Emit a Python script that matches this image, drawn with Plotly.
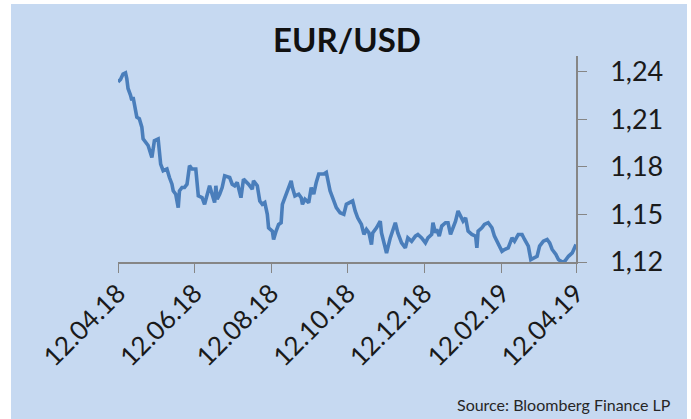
import datetime as dt
import plotly.graph_objects as go

# ---- data ----
start_date = dt.date(2018, 4, 12)
days_since_start = [
    0, 2, 4, 6, 7, 8, 10, 11, 12, 14, 15, 17, 19, 20, 22, 24, 27, 28, 29, 32,
    33, 34, 36, 39, 41, 43, 44, 46, 48, 49, 51, 53, 55, 57, 59, 62, 64, 67, 69, 71,
    73, 75, 77, 78, 79, 81, 83, 85, 89, 91, 93, 95, 98, 100, 103, 104, 107, 108, 111, 113,
    115, 117, 119, 120, 123, 124, 126, 128, 130, 131, 133, 136, 138, 139, 141, 144, 146, 147, 149, 152,
    154, 156, 157, 158, 160, 164, 166, 169, 172, 174, 177, 180, 182, 185, 187, 189, 191, 194, 196, 198,
    200, 202, 203, 206, 209, 210, 212, 214, 217, 221, 223, 226, 229, 231, 234, 237, 239, 242, 245, 247,
    250, 251, 253, 254, 256, 258, 261, 263, 265, 267, 269, 271, 273, 275, 277, 279, 282, 285, 286, 287,
    290, 292, 295, 298, 300, 303, 306, 308, 311, 314, 316, 319, 322, 324, 327, 329, 331, 334, 336, 339,
    342, 344, 346, 349, 351, 354, 356, 359, 362, 363, 365,
]
eur_usd = [
    1.2337, 1.2352, 1.2386, 1.2394, 1.2358, 1.2295, 1.2252, 1.2220, 1.2241, 1.2146,
    1.2114, 1.2104, 1.2051, 1.1977, 1.1956, 1.1935, 1.1860, 1.1924, 1.1966, 1.1977,
    1.1903, 1.1818, 1.1776, 1.1787, 1.1733, 1.1691, 1.1649, 1.1628, 1.1543, 1.1649,
    1.1670, 1.1670, 1.1691, 1.1808, 1.1787, 1.1787, 1.1617, 1.1606, 1.1564, 1.1628,
    1.1681, 1.1628, 1.1575, 1.1681, 1.1596, 1.1628, 1.1670, 1.1744, 1.1733, 1.1691,
    1.1681, 1.1702, 1.1606, 1.1723, 1.1702, 1.1691, 1.1660, 1.1712, 1.1681, 1.1585,
    1.1564, 1.1575, 1.1501, 1.1416, 1.1395, 1.1342, 1.1395, 1.1437, 1.1448, 1.1564,
    1.1606, 1.1670, 1.1712, 1.1670, 1.1617, 1.1628, 1.1606, 1.1564, 1.1596, 1.1575,
    1.1670, 1.1628, 1.1670, 1.1702, 1.1755, 1.1755, 1.1765, 1.1649, 1.1585, 1.1543,
    1.1511, 1.1501, 1.1564, 1.1575, 1.1585, 1.1522, 1.1479, 1.1437, 1.1374, 1.1406,
    1.1384, 1.1310, 1.1384, 1.1416, 1.1458, 1.1384, 1.1310, 1.1257, 1.1352, 1.1448,
    1.1384, 1.1321, 1.1289, 1.1352, 1.1331, 1.1363, 1.1374, 1.1352, 1.1321, 1.1352,
    1.1374, 1.1448, 1.1384, 1.1406, 1.1363, 1.1427, 1.1448, 1.1448, 1.1374, 1.1416,
    1.1458, 1.1522, 1.1490, 1.1458, 1.1479, 1.1395, 1.1374, 1.1363, 1.1289, 1.1395,
    1.1416, 1.1437, 1.1448, 1.1416, 1.1363, 1.1310, 1.1268, 1.1279, 1.1289, 1.1352,
    1.1331, 1.1374, 1.1374, 1.1342, 1.1300, 1.1215, 1.1225, 1.1236, 1.1300, 1.1331,
    1.1342, 1.1321, 1.1279, 1.1247, 1.1215, 1.1200, 1.1204, 1.1236, 1.1257, 1.1279,
    1.1310,
]
x_tick_dates = ["2018-04-12", "2018-06-12", "2018-08-12", "2018-10-12",
                "2018-12-12", "2019-02-12", "2019-04-12"]
x_tick_labels = ["12.04.18", "12.06.18", "12.08.18", "12.10.18",
                 "12.12.18", "12.02.19", "12.04.19"]
y_tick_values = [1.12, 1.15, 1.18, 1.21, 1.24]
y_tick_labels = ["1,12", "1,15", "1,18", "1,21", "1,24"]
title_text = "EUR/USD"
source_text = "Source: Bloomberg Finance LP"

dates = [start_date + dt.timedelta(days=d) for d in days_since_start]

BG = "#c6d9f1"
LINE = "#4a7ebb"
AXIS = "#868686"
FONT = "Lato, 'Open Sans', sans-serif"

fig = go.Figure()
fig.add_trace(go.Scatter(
    x=dates, y=eur_usd, mode="lines",
    line=dict(color=LINE, width=3.6),
    hoverinfo="skip", showlegend=False,
))

W, H = 691, 419
L, R, T, B = 118, 115, 56, 157
pw, ph = W - L - R, H - T - B

def px_x(p):
    return (p - L) / pw

def px_y(p):
    return (H - B - p) / ph

fig.add_shape(type="rect", xref="paper", yref="paper",
              x0=px_x(11), x1=px_x(687), y0=px_y(430), y1=px_y(4),
              fillcolor=BG, line=dict(width=0), layer="below")

fig.update_layout(
    width=W, height=H,
    margin=dict(l=L, r=R, t=T, b=B),
    paper_bgcolor="white",
    plot_bgcolor="rgba(0,0,0,0)",
    font=dict(family=FONT, color="#1a1a1a"),
    title=dict(text="<b>" + title_text + "</b>", x=0.5, xref="paper",
               y=1 - 40 / H, yref="container", yanchor="middle", xanchor="center",
               font=dict(size=33, color="#111111", family=FONT)),
    xaxis=dict(
        type="date",
        range=["2018-04-12", "2019-04-12"],
        tickvals=x_tick_dates, ticktext=x_tick_labels,
        tickangle=-45, tickfont=dict(size=26),
        ticks="outside", ticklen=9, tickcolor=AXIS, tickwidth=1.3,
        ticklabelstandoff=-5,
        showline=True, linecolor=AXIS, linewidth=1.5,
        showgrid=False, zeroline=False, fixedrange=True,
    ),
    yaxis=dict(
        side="right",
        range=[1.12, 1.25],
        tickvals=y_tick_values, ticktext=y_tick_labels,
        tickfont=dict(size=27),
        ticks="outside", ticklen=9, tickcolor=AXIS, tickwidth=1.3,
        ticklabelstandoff=18,
        showline=True, linecolor=AXIS, linewidth=1.5,
        showgrid=False, zeroline=False, fixedrange=True,
    ),
    annotations=[dict(
        text=source_text, xref="paper", yref="paper",
        x=px_x(673), y=px_y(404), xanchor="right", yanchor="middle",
        showarrow=False, font=dict(size=16, color="#262626", family=FONT),
    )],
)

fig.write_html("out.html", config={"displayModeBar": False},
               post_script="document.body.style.margin='0';")
